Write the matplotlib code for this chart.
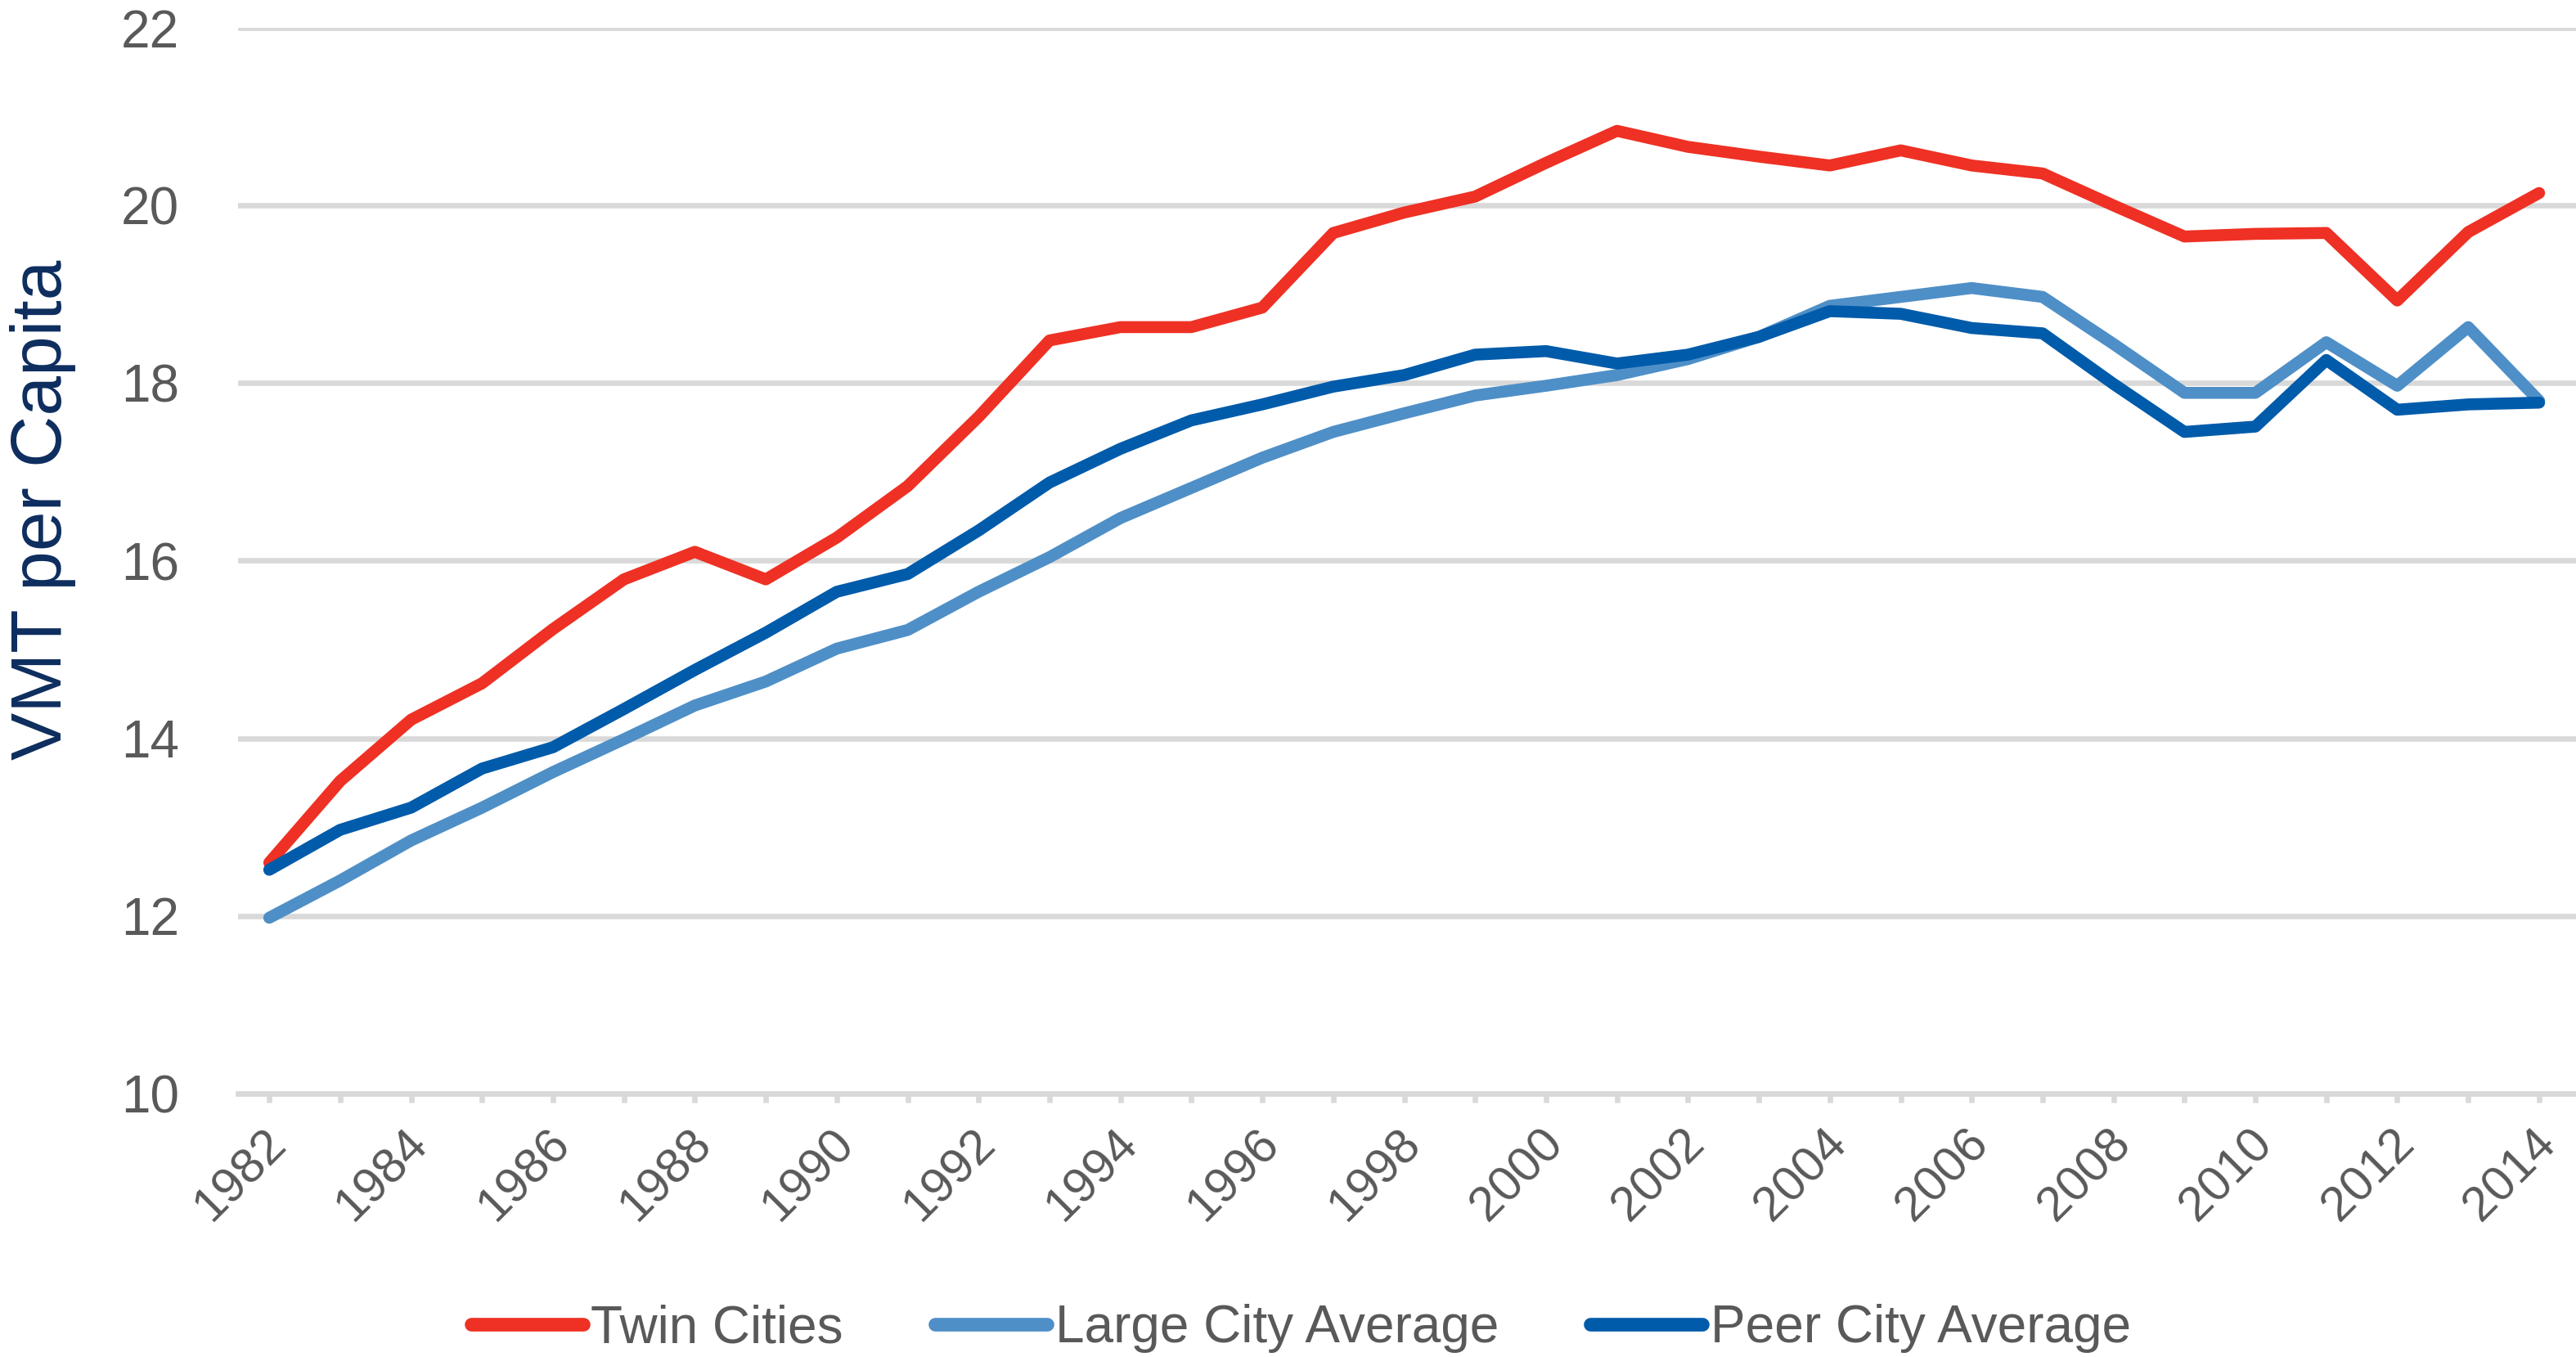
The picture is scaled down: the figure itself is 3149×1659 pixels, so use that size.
import numpy as np
import matplotlib
matplotlib.use('Agg')
import matplotlib.pyplot as plt
from matplotlib.transforms import ScaledTranslation

plt.rcParams['font.family'] = ['Liberation Sans', 'DejaVu Sans']

years = list(range(1982, 2015))

twin_cities = [12.60, 13.52, 14.21, 14.62, 15.23, 15.79, 16.10, 15.79, 16.26, 16.84,
               17.62, 18.48, 18.63, 18.63, 18.85, 19.69, 19.92, 20.10, 20.48, 20.84,
               20.66, 20.55, 20.45, 20.62, 20.45, 20.36, 20.00, 19.65, 19.68, 19.69,
               18.93, 19.70, 20.14]
large_city = [11.98, 12.40, 12.85, 13.22, 13.62, 13.99, 14.37, 14.64, 15.01, 15.22,
              15.65, 16.04, 16.48, 16.82, 17.16, 17.45, 17.66, 17.86, 17.97, 18.09,
              18.27, 18.52, 18.87, 18.97, 19.07, 18.97, 18.44, 17.89, 17.89, 18.46,
              17.97, 18.63, 17.80]
peer_city = [12.52, 12.97, 13.22, 13.66, 13.90, 14.33, 14.77, 15.19, 15.65, 15.85,
             16.34, 16.88, 17.26, 17.58, 17.76, 17.96, 18.09, 18.32, 18.36, 18.22,
             18.32, 18.52, 18.81, 18.78, 18.62, 18.56, 17.99, 17.45, 17.51, 18.26,
             17.70, 17.76, 17.78]

series_names = ['Twin Cities', 'Large City Average', 'Peer City Average']
colors = ['#EE3124', '#4F8FC7', '#005BAA']

gray = '#595959'
grid_gray = '#D9D9D9'

fig = plt.figure(figsize=(31.49, 16.59), dpi=100)
ax = fig.add_axes([291 / 3149, 1 - 1337 / 1659, 1 - 291 / 3149, (1337 - 34) / 1659])

for vals, name, c in zip([twin_cities, large_city, peer_city], series_names, colors):
    ax.plot(years, vals, color=c, lw=10.5, label=name, solid_joinstyle='round',
            solid_capstyle='round')

ax.set_ylim(10, 22)
ax.set_yticks(np.arange(10, 23, 2))
ax.set_xlim(1981.56, 2014.52)
ax.set_xticks(years)
ax.set_xticklabels([str(y) if (y - 1982) % 2 == 0 else '' for y in years])

ax.grid(axis='y', color=grid_gray, lw=4.8)
ax.set_axisbelow(True)
for s in ['top', 'right', 'left']:
    ax.spines[s].set_visible(False)
ax.spines['bottom'].set_color(grid_gray)
ax.spines['bottom'].set_linewidth(4.8)

ax.tick_params(axis='y', length=0, pad=52, labelsize=46, labelcolor=gray)
ax.tick_params(axis='x', length=8, width=4.8, color=grid_gray, pad=30,
               labelsize=43, labelcolor=gray)
for lab in ax.get_xticklabels():
    lab.set_rotation(45)
    lab.set_ha('right')
    lab.set_va('center')
    lab.set_rotation_mode('anchor')
    lab.set_transform(lab.get_transform() + ScaledTranslation(0.12, 0, fig.dpi_scale_trans))

fig.text(53 / 3149, 1 - 623 / 1659, 'VMT per Capita', rotation=90, ha='center',
         va='center', fontsize=63, color='#0D2D5E')

leg = fig.legend(loc='center', bbox_to_anchor=(0.505, 1 - 1624 / 1659), ncol=3,
                 frameon=False, fontsize=46, handlelength=2.15, handletextpad=0.15,
                 columnspacing=1.75, labelcolor=gray)
for ln in leg.get_lines():
    ln.set_linewidth(12)

fig.savefig('out.png', dpi=100)
